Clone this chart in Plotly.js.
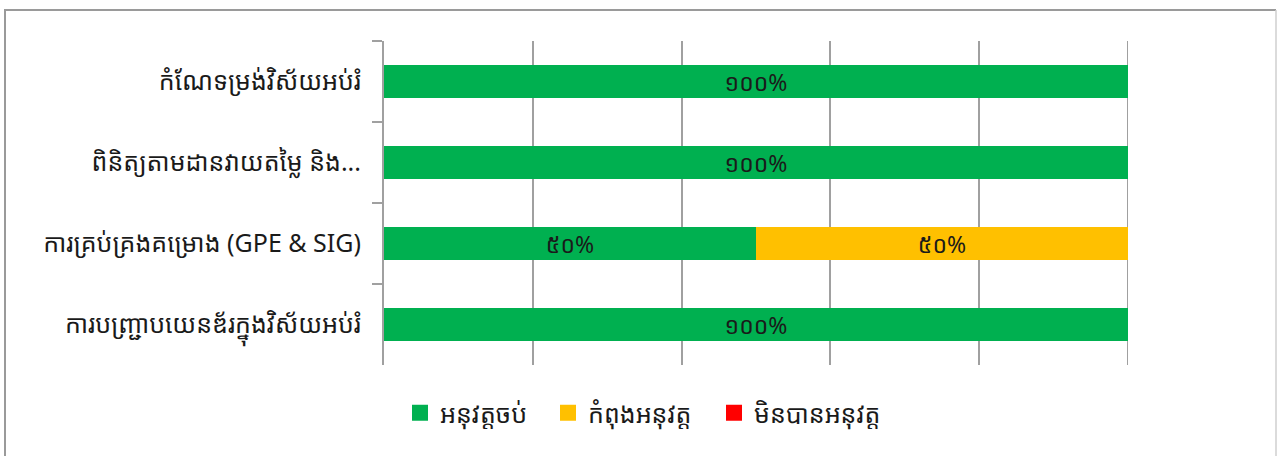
<!DOCTYPE html>
<html>
<head>
<meta charset="utf-8">
<script src="https://cdn.plot.ly/plotly-3.0.1.min.js"></script>
<style>
html,body{margin:0;padding:0;background:#fff;}
#chart{width:1277px;height:456px;}
</style>
</head>
<body>
<div id="chart"></div>
<script>
// Categories, top to bottom
const categories = [
  "កំណែទម្រង់វិស័យអប់រំ",
  "ពិនិត្យតាមដានវាយតម្លៃ និង...",
  "ការគ្រប់គ្រងគម្រោង (GPE & SIG)",
  "ការបញ្ជ្រាបយេនឌ័រក្នុងវិស័យអប់រំ"
];
const seriesNames = ["អនុវត្តចប់", "កំពុងអនុវត្ត", "មិនបានអនុវត្ត"];
const doneValues = [100, 100, 50, 100];
const inProgressValues = [0, 0, 50, 0];
const notDoneValues = [0, 0, 0, 0];
const seriesColors = ["#00B050", "#FFC000", "#FF0000"];

const khmerDigits = ["០","១","២","៣","៤","៥","៦","៧","៨","៩"];
function khmerPct(v){
  if (!v) return "";
  return String(v).replace(/[0-9]/g, d => khmerDigits[+d]) + "%";
}

const FONT = "'Noto Sans Khmer','Khmer OS','Noto Sans','DejaVu Sans',sans-serif";

const allValues = [doneValues, inProgressValues, notDoneValues];
const barTraces = allValues.map((vals, i) => ({
  type: "bar",
  orientation: "h",
  name: seriesNames[i],
  y: categories,
  x: vals,
  width: 0.4,
  marker: {color: seriesColors[i]},
  text: vals.map(khmerPct),
  textposition: "inside",
  insidetextanchor: "middle",
  constraintext: "none",
  textfont: {size: 23, color: "#1a1a1a", family: FONT},
  hoverinfo: "none",
  showlegend: false
}));

// plot area geometry
const W = 1277, H = 456;
const mL = 384, mR = W - 1128, mT = 41, mB = H - 365;
const pw = W - mL - mR, ph = H - mT - mB;
const px = x => (x - mL) / pw;
const py = y => (H - mB - y) / ph;

// legend-only entries with larger square swatches, each in its own legend
const legendIds = ["legend", "legend2", "legend3"];
const legendLeft = [412, 560, 726];
const legendTraces = seriesNames.map((n, i) => ({
  type: "scatter",
  mode: "markers",
  name: n,
  x: [null], y: [null],
  marker: {symbol: "square", size: 16, color: seriesColors[i]},
  showlegend: true,
  legend: legendIds[i],
  hoverinfo: "none"
}));

const layout = {
  width: W, height: H,
  margin: {l: mL, r: mR, t: mT, b: mB, pad: 0},
  barmode: "stack",
  paper_bgcolor: "#ffffff",
  plot_bgcolor: "#ffffff",
  font: {family: FONT, size: 22, color: "#1a1a1a"},
  showlegend: true,
  xaxis: {
    range: [0, 100],
    dtick: 20,
    showgrid: true,
    gridcolor: "#a0a0a0",
    gridwidth: 2,
    zeroline: false,
    showline: false,
    showticklabels: false,
    ticks: "",
    fixedrange: true
  },
  yaxis: {
    type: "category",
    autorange: "reversed",
    showgrid: false,
    showline: true,
    linecolor: "#a0a0a0",
    linewidth: 2,
    ticks: "outside",
    tickson: "boundaries",
    ticklen: 10,
    tickcolor: "#a0a0a0",
    tickwidth: 2,
    ticklabelstandoff: 16,
    tickfont: {size: 25, color: "#1a1a1a", family: FONT},
    fixedrange: true
  },
  shapes: [
    {type: "line", xref: "x", yref: "paper", x0: 100, x1: 100, y0: 0, y1: 1, layer: "below", line: {color: "#a0a0a0", width: 2}},
    {type: "line", xref: "paper", yref: "paper", x0: px(5), x1: px(5), y0: py(10), y1: py(460), line: {color: "#9a9a9a", width: 2}},
    {type: "line", xref: "paper", yref: "paper", x0: px(4), x1: px(1276), y0: py(10), y1: py(10), line: {color: "#9a9a9a", width: 2}},
    {type: "line", xref: "paper", yref: "paper", x0: px(1276), x1: px(1276), y0: py(10), y1: py(460), line: {color: "#cfcfcf", width: 1.5}}
  ]
};
legendIds.forEach((id, i) => {
  layout[id] = {
    orientation: "h",
    x: px(legendLeft[i] - 12), xanchor: "left",
    y: py(413), yanchor: "middle",
    font: {size: 25, color: "#1a1a1a", family: FONT},
    bgcolor: "rgba(0,0,0,0)",
    itemclick: false, itemdoubleclick: false
  };
});

Plotly.newPlot("chart", barTraces.concat(legendTraces), layout, {displayModeBar: false, staticPlot: true});
</script>
</body>
</html>
